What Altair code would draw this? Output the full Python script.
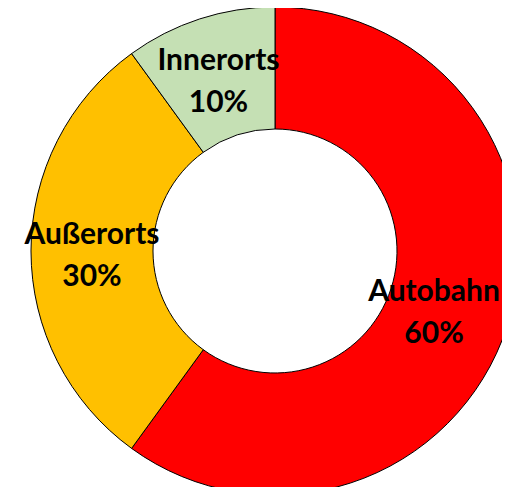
import altair as alt
import pandas as pd

categories = ["Autobahn", "Außerorts", "Innerorts"]
shares = [60, 30, 10]
colors = ["#FF0000", "#FFC000", "#C5E0B4"]

df = pd.DataFrame({
    "cat": categories,
    "val": shares,
    "ord": list(range(len(categories))),
})
df["label"] = [f"{c}\n{v}%" for c, v in zip(categories, shares)]

CX, CY = 267, 243

base = alt.Chart(df).encode(
    theta=alt.Theta("val:Q", stack=True),
    order=alt.Order("ord:Q"),
    x=alt.value(CX),
    y=alt.value(CY),
)

arcs = base.mark_arc(outerRadius=244, innerRadius=122, stroke="black", strokeWidth=1).encode(
    color=alt.Color("cat:N", scale=alt.Scale(domain=categories, range=colors), legend=None)
)

text_style = dict(
    radius=183, font="Lato", fontSize=30, fontWeight="bold", color="black",
    lineBreak="\n", lineHeight=42, baseline="middle", align="center", dy=-16
)

# text layer needs all rows for the stacked angles; hide the one drawn separately
labels_main = base.mark_text(**text_style).encode(
    text="label:N",
    opacity=alt.condition(alt.datum.cat == "Autobahn", alt.value(0), alt.value(1)),
)
labels_auto = base.mark_text(dx=-15, **text_style).encode(
    text="label:N",
    opacity=alt.condition(alt.datum.cat == "Autobahn", alt.value(1), alt.value(0)),
)

chart = (arcs + labels_main + labels_auto).properties(
    width=494, height=479, padding=0, autosize=alt.AutoSizeParams(type="none")
).configure_view(stroke=None)

chart.save("out.html", embed_options={"renderer": "svg", "actions": False})
